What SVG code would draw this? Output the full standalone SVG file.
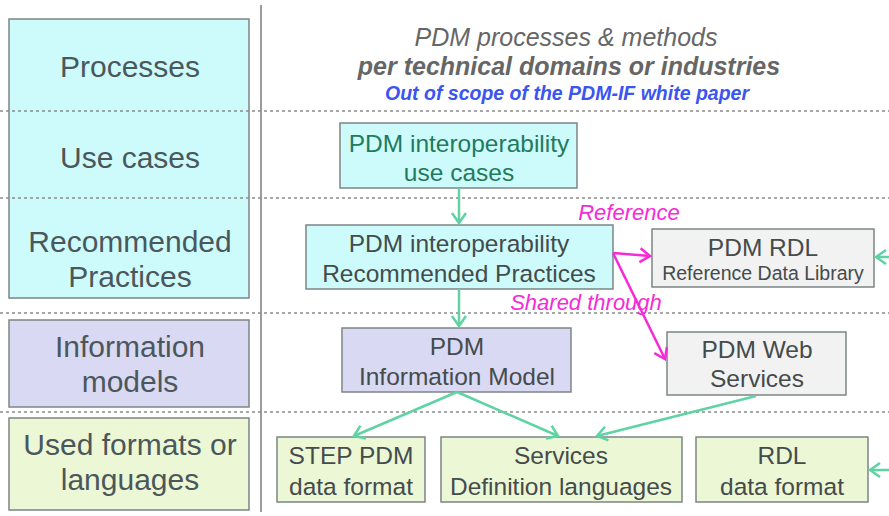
<svg xmlns="http://www.w3.org/2000/svg" width="889" height="516" viewBox="0 0 889 516">
  <style>
    .lbl { font-family: "Liberation Sans", Arial, sans-serif; font-size: 30px; fill: #4b575b; text-anchor: middle; }
    .nt { font-family: "Liberation Sans", Arial, sans-serif; font-size: 24.5px; fill: #454b4b; text-anchor: middle; }
    .sm { font-size: 19.5px; }
    .uc { fill: #1f7a5e; }
    .box { stroke: #7d8585; stroke-width: 1.5; }
    .cyan { fill: #cdfbfb; }
    .lav { fill: #d9d9f3; }
    .lgreen { fill: #ecf7d6; }
    .grey { fill: #f2f2f2; }
    .dash { stroke: #8a8a8a; stroke-width: 1.5; stroke-dasharray: 3 3; }
    .g { stroke: #5fd3a3; stroke-width: 2.5; fill: none; marker-end: url(#ga); }
    .m { stroke: #f52ad8; stroke-width: 2.5; fill: none; marker-end: url(#ma); }
    .mt { font-family: "Liberation Sans", Arial, sans-serif; font-size: 22px; font-style: italic; fill: #f52ad8; text-anchor: middle; }
    .hdr { font-family: "Liberation Sans", Arial, sans-serif; font-style: italic; font-size: 25px; fill: #666666; text-anchor: middle; }
  </style>
  <defs>
    <marker id="ga" markerUnits="userSpaceOnUse" markerWidth="18" markerHeight="18" refX="11" refY="8" orient="auto">
      <path d="M1,1 L11,8 L1,15" fill="none" stroke="#5fd3a3" stroke-width="2.5"/>
    </marker>
    <marker id="ma" markerUnits="userSpaceOnUse" markerWidth="18" markerHeight="18" refX="11" refY="8" orient="auto">
      <path d="M1,1 L11,8 L1,15" fill="none" stroke="#f52ad8" stroke-width="2.5"/>
    </marker>
  </defs>
  <rect width="889" height="516" fill="#ffffff"/>

  <!-- layer column -->
  <g id="layer-processes-usecases-rp">
    <rect class="box cyan" x="9" y="19" width="240" height="279"/>
    <text class="lbl" x="130" y="77">Processes</text>
    <text class="lbl" x="130" y="168">Use cases</text>
    <text class="lbl" x="130" y="252">Recommended</text>
    <text class="lbl" x="130" y="287">Practices</text>
  </g>
  <g id="layer-information-models">
    <rect class="box lav" x="9" y="320" width="240" height="87"/>
    <text class="lbl" x="130" y="357">Information</text>
    <text class="lbl" x="130" y="392">models</text>
  </g>
  <g id="layer-formats">
    <rect class="box lgreen" x="9" y="418" width="240" height="92"/>
    <text class="lbl" x="130" y="455">Used formats or</text>
    <text class="lbl" x="130" y="490">languages</text>
  </g>

  <!-- separators -->
  <g id="separators">
    <line x1="261" y1="5" x2="261" y2="512" stroke="#7a7a7a" stroke-width="1.5"/>
    <line class="dash" x1="0" y1="111" x2="889" y2="111"/>
    <line class="dash" x1="0" y1="198" x2="889" y2="198"/>
    <line class="dash" x1="0" y1="313" x2="889" y2="313"/>
    <line class="dash" x1="0" y1="412" x2="889" y2="412"/>
  </g>

  <!-- header text -->
  <g id="processes-header">
    <text class="hdr" x="566" y="46">PDM processes &amp; methods</text>
    <text class="hdr" x="569" y="75" font-weight="bold">per technical domains or industries</text>
    <text x="567" y="100" font-family="Liberation Sans, Arial, sans-serif" font-size="19.5" font-style="italic" font-weight="bold" fill="#3a55f0" text-anchor="middle">Out of scope of the PDM-IF white paper</text>
  </g>

  <!-- nodes -->
  <g id="use-cases">
    <rect class="box cyan" x="340" y="123" width="237" height="65"/>
    <text class="nt uc" x="459" y="152">PDM interoperability</text>
    <text class="nt uc" x="459" y="181">use cases</text>
  </g>
  <g id="recommended-practices">
    <rect class="box cyan" x="306" y="225" width="307" height="64"/>
    <text class="nt" x="459" y="252">PDM interoperability</text>
    <text class="nt" x="459" y="282">Recommended Practices</text>
  </g>
  <g id="pdm-rdl">
    <rect class="box grey" x="652" y="229" width="222" height="58"/>
    <text class="nt" x="763" y="256">PDM RDL</text>
    <text class="nt sm" x="763" y="280">Reference Data Library</text>
  </g>
  <g id="information-model">
    <rect class="box lav" x="342" y="328" width="229" height="64"/>
    <text class="nt" x="457" y="355">PDM</text>
    <text class="nt" x="457" y="385">Information Model</text>
  </g>
  <g id="web-services">
    <rect class="box grey" x="667" y="332" width="179" height="63"/>
    <text class="nt" x="757" y="358">PDM Web</text>
    <text class="nt" x="757" y="387">Services</text>
  </g>
  <g id="step-pdm">
    <rect class="box lgreen" x="277" y="437" width="148" height="65"/>
    <text class="nt" x="351" y="464">STEP PDM</text>
    <text class="nt" x="351" y="495">data format</text>
  </g>
  <g id="services-definition">
    <rect class="box lgreen" x="441" y="437" width="241" height="65"/>
    <text class="nt" x="561" y="464">Services</text>
    <text class="nt" x="561" y="495">Definition languages</text>
  </g>
  <g id="rdl-format">
    <rect class="box lgreen" x="696" y="437" width="172" height="65"/>
    <text class="nt" x="782" y="464">RDL</text>
    <text class="nt" x="782" y="495">data format</text>
  </g>

  <!-- connectors -->
  <g id="connectors">
    <line class="g" x1="459" y1="188" x2="459" y2="223"/>
    <line class="g" x1="459" y1="289" x2="459" y2="326"/>
    <line class="g" x1="457" y1="392" x2="354" y2="436"/>
    <line class="g" x1="457" y1="392" x2="558" y2="436"/>
    <line class="g" x1="756" y1="396" x2="597" y2="436"/>
    <line class="g" x1="895" y1="257" x2="876" y2="257"/>
    <line class="g" x1="895" y1="470" x2="870" y2="470"/>
    <line class="m" x1="613" y1="253" x2="650" y2="256"/>
    <line class="m" x1="613" y1="253" x2="665" y2="359"/>
    <text class="mt" x="629" y="220">Reference</text>
    <text class="mt" x="586" y="310">Shared through</text>
  </g>
</svg>
